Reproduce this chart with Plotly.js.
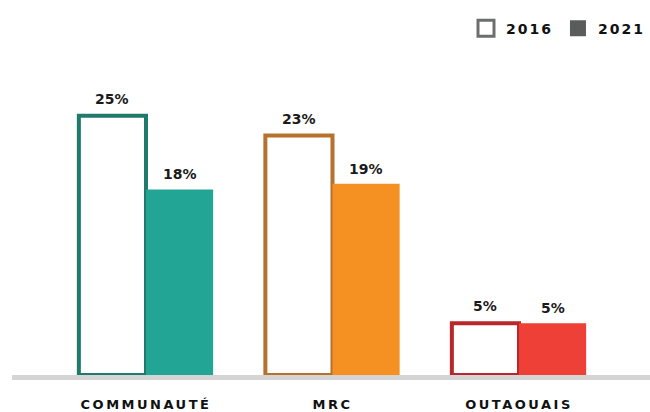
<!DOCTYPE html>
<html>
<head>
<meta charset="utf-8">
<script src="https://cdn.plot.ly/plotly-3.0.1.min.js"></script>
<style>
  html, body { margin: 0; padding: 0; background: #fff; }
  #chart { width: 650px; height: 412px; }
  .xtick text { letter-spacing: 2.5px; }
  .legendtext { letter-spacing: 2px; }
</style>
</head>
<body>
<div id="chart"></div>
<script>
const categories = ["COMMUNAUTÉ", "MRC", "OUTAOUAIS"];
const values2016 = [25.0, 23.1, 5.0];
const values2021 = [17.9, 18.45, 5.0];
const labels2016 = ["25%", "23%", "5%"];
const labels2021 = ["18%", "19%", "5%"];
const seriesNames = ["2016", "2021"];

const outlineColors = ["#1f7a6c", "#b5722c", "#b9262b"];
const fillColors = ["#22a594", "#f59122", "#ee4036"];

const labelFont = { family: "DejaVu Sans", size: 14, color: "#1a1a1a", weight: "bold" };

const traces = [
  {
    type: "bar",
    x: categories,
    y: values2016,
    marker: { color: "#ffffff", line: { color: outlineColors, width: 4 } },
    showlegend: false,
    hoverinfo: "skip"
  },
  {
    type: "bar",
    x: categories,
    y: values2021,
    marker: { color: fillColors, line: { width: 0 } },
    showlegend: false,
    hoverinfo: "skip"
  },
  {
    type: "scatter",
    mode: "markers",
    x: [null],
    y: [null],
    name: seriesNames[0],
    marker: { symbol: "square-open", size: 17, color: "#6d6e6e", line: { width: 3, color: "#6d6e6e" } }
  },
  {
    type: "scatter",
    mode: "markers",
    x: [null],
    y: [null],
    name: seriesNames[1],
    marker: { symbol: "square", size: 20, color: "#5a5c5c" }
  }
];

// value labels above bars (group offset = half of a bar width on the category axis)
const barOffset = 0.18;
const annotations = [];
categories.forEach((c, i) => {
  annotations.push({
    x: i - barOffset, y: values2016[i], xref: "x", yref: "y",
    text: labels2016[i], showarrow: false, yanchor: "bottom", yshift: 7,
    font: labelFont
  });
  annotations.push({
    x: i + barOffset, y: values2021[i], xref: "x", yref: "y",
    text: labels2021[i], showarrow: false, yanchor: "bottom", yshift: 5,
    font: labelFont
  });
});

const plotHeight = 412 - 64 - 37;

const layout = {
  width: 650,
  height: 412,
  margin: { l: 12, r: 0, t: 64, b: 37 },
  paper_bgcolor: "#ffffff",
  plot_bgcolor: "#ffffff",
  barmode: "group",
  bargap: 0.28,
  bargroupgap: 0,
  xaxis: {
    type: "category",
    range: [-0.7185, 2.7024],
    showgrid: false,
    zeroline: false,
    showline: false,
    ticks: "",
    ticklabelstandoff: 20,
    tickfont: { family: "DejaVu Sans", size: 13, color: "#111111", weight: "bold" },
    fixedrange: true
  },
  yaxis: {
    range: [0, 30],
    visible: false,
    fixedrange: true
  },
  showlegend: true,
  legend: {
    orientation: "h",
    x: 1,
    xanchor: "right",
    y: 1.165,
    yanchor: "top",
    font: { family: "DejaVu Sans", size: 14, color: "#111111", weight: "bold" },
    itemclick: false,
    itemdoubleclick: false
  },
  annotations: annotations,
  shapes: [
    {
      type: "rect",
      xref: "paper",
      yref: "paper",
      x0: 0,
      x1: 1,
      y0: -5 / plotHeight,
      y1: 0,
      fillcolor: "#d4d4d4",
      line: { width: 0 },
      layer: "above"
    }
  ]
};

Plotly.newPlot("chart", traces, layout, { displayModeBar: false, staticPlot: true });
</script>
</body>
</html>
